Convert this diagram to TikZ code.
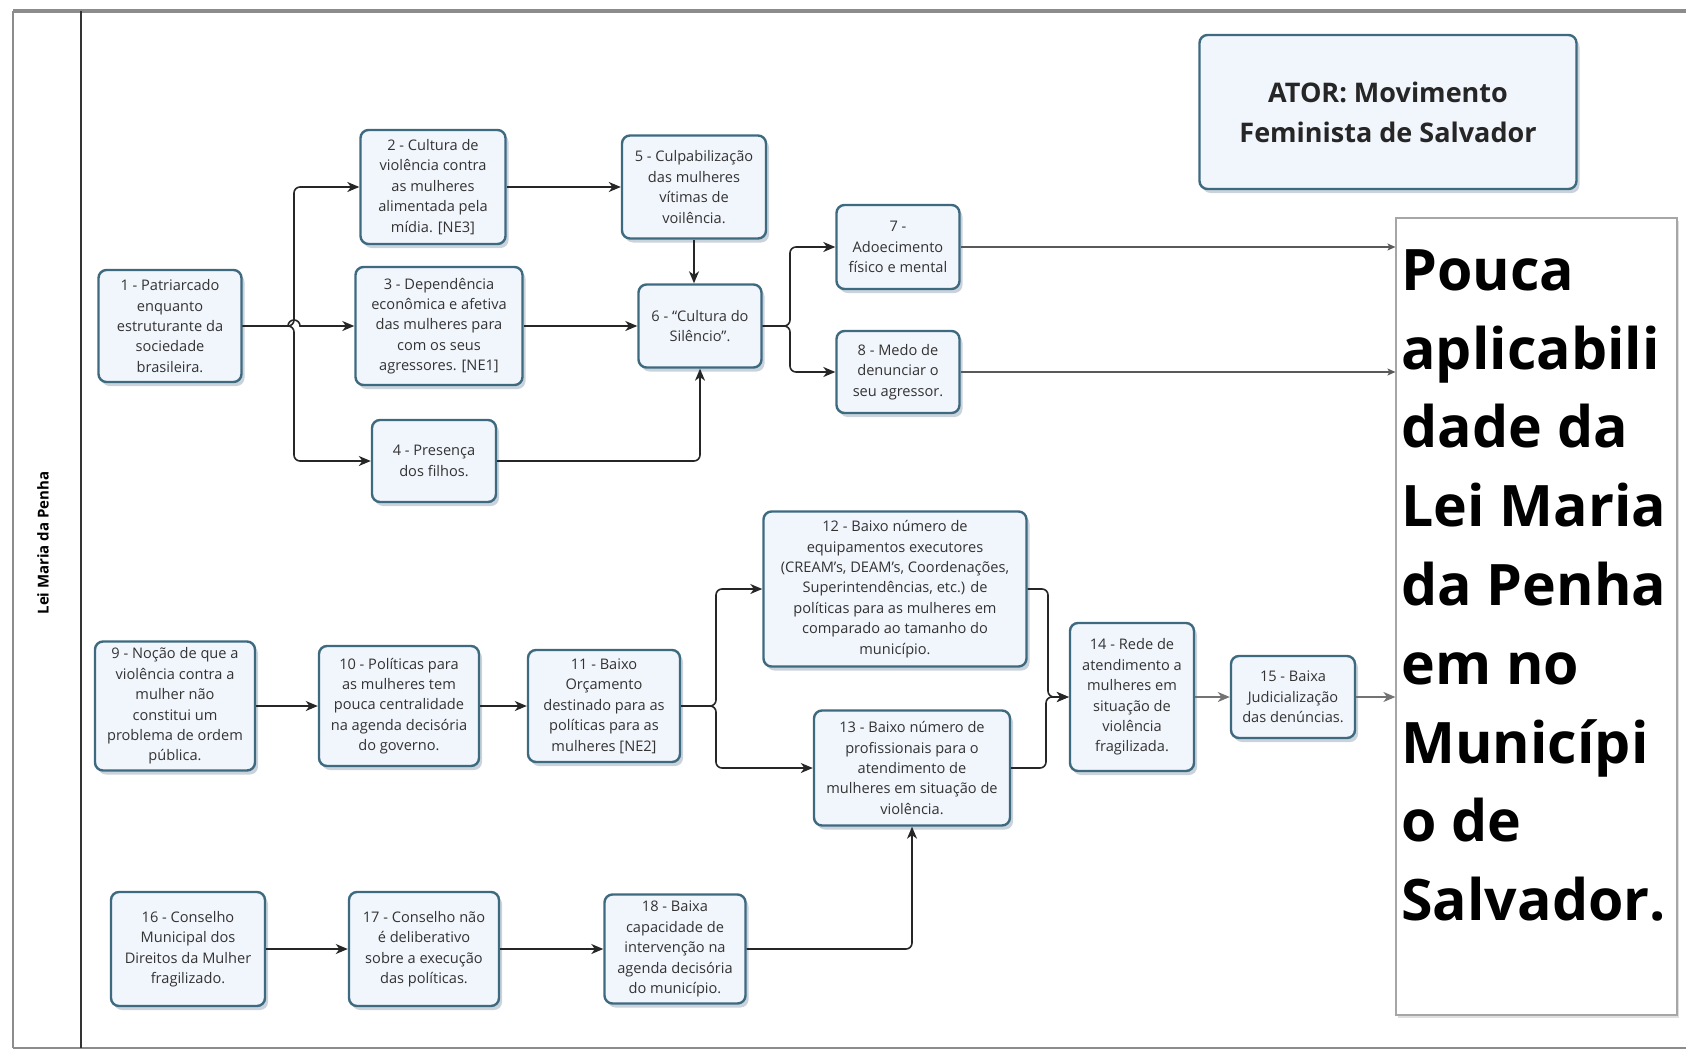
\documentclass[tikz,border=0pt]{standalone}
\usepackage{fontspec}
\setmainfont{Open Sans}
\usetikzlibrary{arrows.meta,shadows}
\definecolor{boxedge}{HTML}{3E6A80}
\definecolor{boxfill}{HTML}{F1F5FC}
\definecolor{shadowc}{HTML}{A7B6C4}
\definecolor{linec}{HTML}{262626}
\definecolor{framec}{HTML}{8C8C8C}
\begin{document}
\begin{tikzpicture}[x=0.5pt,y=-0.5pt,
  bx/.style 2 args={draw=boxedge, line width=1.2pt, fill=boxfill, rounded corners=4pt,
    minimum width={#1*0.5pt}, minimum height={#2*0.5pt}, inner sep=0pt, align=center,
    font=\fontsize{7.3}{10.2}\selectfont, text=black!80,
    drop shadow={shadow xshift=1.5pt, shadow yshift=-2pt, fill=shadowc, opacity=0.6}},
  conn/.style={draw=linec, line width=0.8pt, -{Stealth[length=6pt,width=5pt,inset=1.8pt]}, rounded corners=3pt},
  thinarr/.style={draw=black!65, line width=0.6pt, -{Stealth[length=4pt,width=3.5pt,inset=1pt]}}
]
\useasboundingbox (0,0) rectangle (1686,1054);
% frame
\draw[framec, line width=1pt] (13,1048) -- (13,11);
\draw[framec, line width=1.6pt] (13,11) -- (1686,11);
\draw[framec, line width=1pt] (13,1048) -- (1686,1048);
\draw[black!80, line width=0.8pt] (81,11) -- (81,1048);
\node[rotate=90, font=\bfseries\fontsize{7.5}{9}\selectfont] (lane) at (43,543) {Lei Maria da Penha};

% actor box
\node[bx={377}{154}, font=\bfseries\fontsize{13.5}{20}\selectfont, text=black!85] (ator) at (1388,112) {ATOR: Movimento\\Feminista de Salvador};

% big result box
\node[draw=black!35, line width=0.6pt, fill=white, minimum width={281*0.5pt}, minimum height={797*0.5pt}, inner sep=0pt,
  drop shadow={shadow xshift=1pt, shadow yshift=-1.5pt, fill=black!25, opacity=0.5}] (big) at (1536.5,616.5) {};
\node[anchor=north west, align=left, inner sep=0pt, font=\bfseries\fontsize{28.6}{39.4}\selectfont] (bigtxt) at (1401,249)
  {Pouca\\aplicabili\\dade da\\Lei Maria\\da Penha\\em no\\Municípi\\o de\\Salvador.};

% row 1
\node[bx={143}{112}] (n1) at (170,326) {1 - Patriarcado\\enquanto\\estruturante da\\sociedade\\brasileira.};
\node[bx={145}{114}] (n2) at (433,187) {2 - Cultura de\\violência contra\\as mulheres\\alimentada pela\\mídia. [NE3]};
\node[bx={167}{118}] (n3) at (439,326) {3 - Dependência\\econômica e afetiva\\das mulheres para\\com os seus\\agressores. [NE1]};
\node[bx={124}{82}] (n4) at (434,461) {4 - Presença\\dos filhos.};
\node[bx={144}{103}] (n5) at (694,187) {5 - Culpabilização\\das mulheres\\vítimas de\\voilência.};
\node[bx={123}{83}] (n6) at (700,326) {6 - “Cultura do\\Silêncio”.};
\node[bx={123}{84}] (n7) at (898,247) {7 -\\Adoecimento\\físico e mental};
\node[bx={123}{82}] (n8) at (898,372) {8 - Medo de\\denunciar o\\seu agressor.};

% row 2
\node[bx={160}{129}] (n9) at (175,706) {9 - Noção de que a\\violência contra a\\mulher não\\constitui um\\problema de ordem\\pública.};
\node[bx={160}{120}] (n10) at (399,706) {10 - Políticas para\\as mulheres tem\\pouca centralidade\\na agenda decisória\\do governo.};
\node[bx={152}{112}] (n11) at (604,706) {11 - Baixo\\Orçamento\\destinado para as\\políticas para as\\mulheres [NE2]};
\node[bx={263}{155}] (n12) at (895,589) {12 - Baixo número de\\equipamentos executores\\(CREAM's, DEAM's, Coordenações,\\Superintendências, etc.) de\\políticas para as mulheres em\\comparado ao tamanho do\\município.};
\node[bx={196}{115}] (n13) at (912,768) {13 - Baixo número de\\profissionais para o\\atendimento de\\mulheres em situação de\\violência.};
\node[bx={124}{148}] (n14) at (1132,697) {14 - Rede de\\atendimento a\\mulheres em\\situação de\\violência\\fragilizada.};
\node[bx={124}{82}] (n15) at (1293,697) {15 - Baixa\\Judicialização\\das denúncias.};

% row 3
\node[bx={154}{114}] (n16) at (188,949) {16 - Conselho\\Municipal dos\\Direitos da Mulher\\fragilizado.};
\node[bx={150}{114}] (n17) at (424,949) {17 - Conselho não\\é deliberativo\\sobre a execução\\das políticas.};
\node[bx={141}{109}] (n18) at (675,949) {18 - Baixa\\capacidade de\\intervenção na\\agenda decisória\\do município.};

% connectors row 1
\draw[conn] (n1.east) -- (294,326) -- (294,187) -- (n2.west);
\draw[conn] (n1.east) -- (294,326) -- (294,461) -- (n4.west);
\draw[conn, rounded corners=0pt] (n1.east) -- (288,326) arc[start angle=180,end angle=360,radius=6] -- (n3.west);
\draw[conn] (n2.east) -- (n5.west);
\draw[conn] (n5.south) -- (n5.south |- n6.north);
\draw[conn] (n3.east) -- (n6.west);
\draw[conn] (n4.east) -| (n6.south);
\draw[conn] (n6.east) -- (790,326) -- (790,247) -- (n7.west);
\draw[conn] (n6.east) -- (790,326) -- (790,372) -- (n8.west);
\draw[thinarr] (n7.east) -- (n7.east -| big.west);
\draw[thinarr] (n8.east) -- (n8.east -| big.west);

% connectors row 2
\draw[conn] (n9.east) -- (n10.west);
\draw[conn] (n10.east) -- (n11.west);
\draw[conn] (n11.east) -- (716,706) -- (716,589) -- (n12.west);
\draw[conn] (n11.east) -- (716,706) -- (716,768) -- (n13.west);
\draw[conn] (n12.east) -- (1048,589) -- (1048,697) -- (n14.west);
\draw[conn] (n13.east) -- (1046,768) -- (1046,697) -- (n14.west);
\draw[conn, draw=black!55] (n14.east) -- (n15.west);
\draw[conn, draw=black!55] (n15.east) -- (n15.east -| big.west);

% connectors row 3
\draw[conn] (n16.east) -- (n17.west);
\draw[conn] (n17.east) -- (n18.west);
\draw[conn] (n18.east) -| (n13.south);
\end{tikzpicture}
\end{document}
